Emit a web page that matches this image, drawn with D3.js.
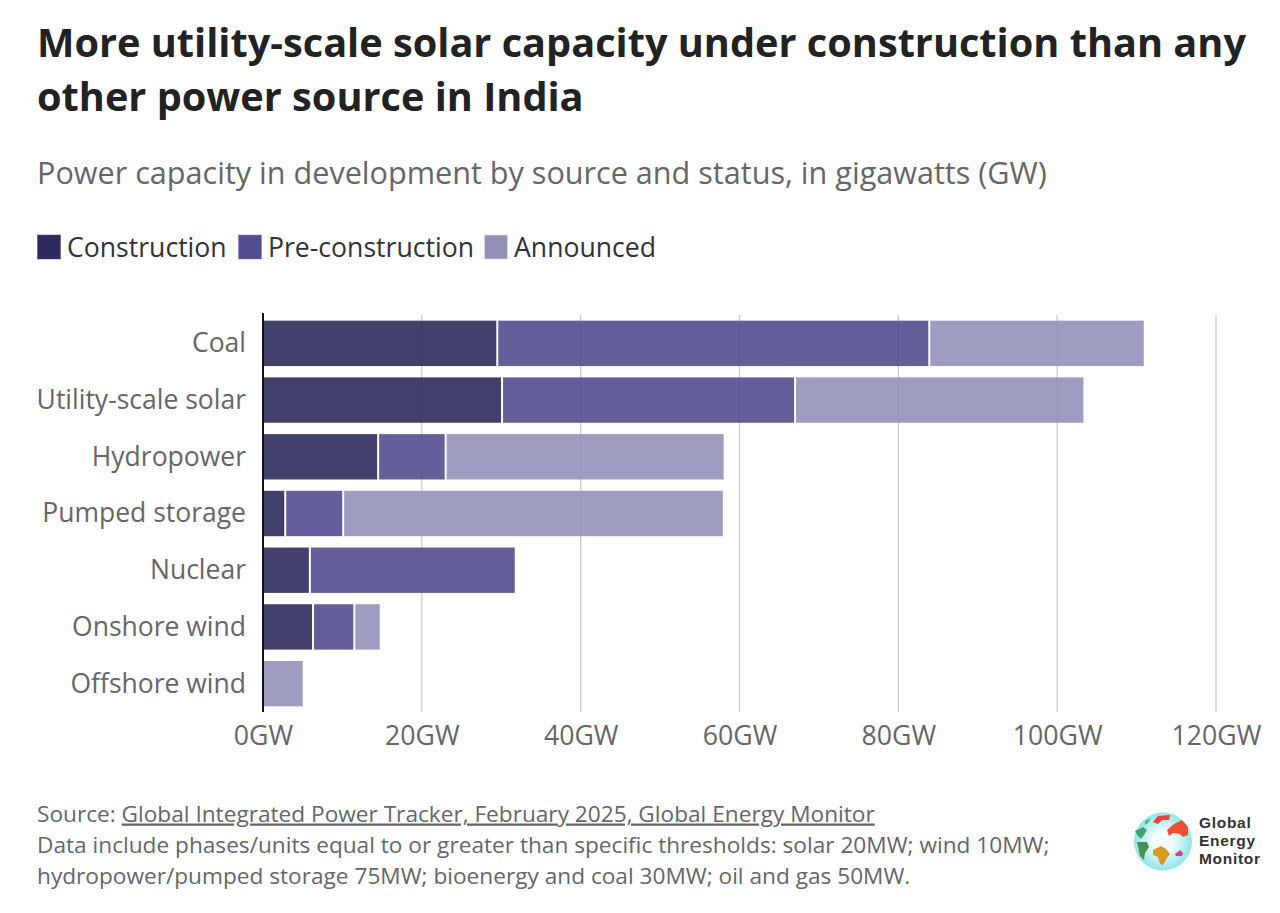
<!DOCTYPE html>
<html><head><meta charset="utf-8">
<script src="https://cdn.jsdelivr.net/npm/d3@7"></script>
<style>
html,body{margin:0;padding:0;background:#fff;overflow:hidden}
svg{display:block}
text{font-family:"Open Sans","Noto Sans",sans-serif}
</style></head><body>
<svg id="c" width="1280" height="913"></svg>
<script>
const categories=["Coal","Utility-scale solar","Hydropower","Pumped storage","Nuclear","Onshore wind","Offshore wind"];
const seriesNames=["Construction","Pre-construction","Announced"];
const construction=[29.5,30.1,14.5,2.8,5.9,6.3,0];
const preConstruction=[54.4,36.9,8.5,7.3,25.8,5.2,0];
const announced=[27.0,36.3,35.0,47.8,0,3.2,5.0];
const tickValues=[0,20,40,60,80,100,120];
const colors=["#2e2b5c","#534c8f","#9491b9"];

const svg=d3.select("#c");
const x=d3.scaleLinear().domain([0,120]).range([263,1216]);
const y=d3.scaleBand().domain(categories).range([315,712]).paddingInner(0.2).paddingOuter(0.1);

const title=svg.append("text").attr("x",37).attr("fill","#222").attr("font-size",39.7).attr("font-weight",700);
["More utility-scale solar capacity under construction than any","other power source in India"].forEach((t,i)=>
  title.append("tspan").attr("x",37).attr("y",57+i*54).text(t));
svg.append("text").attr("x",37).attr("y",184).attr("fill","#666").attr("font-size",30.6).text("Power capacity in development by source and status, in gigawatts (GW)");

const legendX=[37,238,484];
seriesNames.forEach((n,i)=>{
  svg.append("rect").attr("x",legendX[i]+.5).attr("y",235).attr("width",23).attr("height",24)
    .attr("fill",colors[i]).attr("stroke",d3.color(colors[i]).brighter(1.2)).attr("stroke-opacity",.5);
  svg.append("text").attr("x",legendX[i]+30).attr("y",257).attr("fill","#333").attr("font-size",26.6).text(n);
});

// gridlines
svg.append("g").selectAll("line").data(tickValues).join("line")
  .attr("x1",d=>x(d)).attr("x2",d=>x(d)).attr("y1",315).attr("y2",712)
  .attr("stroke","#ccc").attr("stroke-width",1.3);

// stacked bars
const table=categories.map((c,i)=>({category:c,Construction:construction[i],"Pre-construction":preConstruction[i],Announced:announced[i]}));
const stack=d3.stack().keys(seriesNames)(table);
const barG=svg.append("g");
stack.forEach((s,k)=>{
  barG.append("g").attr("fill",colors[k]).attr("fill-opacity",.9)
    .selectAll("rect").data(s.filter(d=>d[1]-d[0]>0)).join("rect")
    .attr("x",d=>x(d[0])+(d[0]>0?1:0))
    .attr("width",d=>x(d[1])-x(d[0])-(d[0]>0?1:0)-(d[1]<d3.sum(seriesNames,n=>d.data[n])?1:0))
    .attr("y",d=>y(d.data.category))
    .attr("height",y.bandwidth());
});

// axis baseline
svg.append("line").attr("x1",263).attr("x2",263).attr("y1",313).attr("y2",712).attr("stroke","#111").attr("stroke-width",2);

// y labels
const yAxis=d3.axisLeft(y).tickSize(0).tickPadding(0);
const yg=svg.append("g").attr("transform","translate(246,0.5)").call(yAxis);
yg.select(".domain").remove();
yg.selectAll("text").attr("fill","#666").attr("font-size",26.5).attr("font-family",'"Open Sans"');

// x labels
const xAxis=d3.axisBottom(x).tickValues(tickValues).tickSize(0).tickPadding(0).tickFormat(d=>d+"GW");
const xg=svg.append("g").attr("transform","translate(0,726.5)").call(xAxis);
xg.select(".domain").remove();
xg.selectAll("text").attr("fill","#666").attr("font-size",26.7).attr("font-family",'"Open Sans"');

// footer
const fs=22.65;
const f1=svg.append("text").attr("x",37).attr("y",821.5).attr("fill","#666").attr("font-size",fs);
f1.append("tspan").text("Source: ");
f1.append("tspan").attr("text-decoration","underline").text("Global Integrated Power Tracker, February 2025, Global Energy Monitor");
svg.append("text").attr("x",37).attr("y",852.5).attr("fill","#666").attr("font-size",fs).text("Data include phases/units equal to or greater than specific thresholds: solar 20MW; wind 10MW;");
svg.append("text").attr("x",37).attr("y",883.5).attr("fill","#666").attr("font-size",fs).text("hydropower/pumped storage 75MW; bioenergy and coal 30MW; oil and gas 50MW.");

// logo
const defs=svg.append("defs");
const g=defs.append("radialGradient").attr("id","globe");
g.append("stop").attr("offset","35%").attr("stop-color","#f2fdfd");
g.append("stop").attr("offset","100%").attr("stop-color","#8fe6ea");
const logo=svg.append("g").attr("transform","translate(1120,800)");
logo.append("circle").attr("cx",43).attr("cy",41.5).attr("r",29).attr("fill","url(#globe)");
const blobs=[
 ["M33 22 L38 16 L50 15 L49 20 L42 20 L38 24 Z","#e8433a"],
 ["M47 30 L54 24 L62 20 L68 27 L68 35 L63 37 L60 34 L53 33 L49 36 Z","#f04e30"],
 ["M25 21 L31 18 L28 23 L25 25 Z","#58b56a"],
 ["M15 31 L23 27 L27 30 L24 35 L21 39 L18 36 Z","#3fa66b"],
 ["M17 42 L27 42 L29 47 L25 53 L24 60 L20 56 Z","#4c8f52"],
 ["M33 50 L41 46 L46 49 L50 54 L47 58 L43 65 L40 64 L38 57 L33 55 Z","#d99a1f"],
 ["M55 54 L60 50 L63 53 L62 56 L56 56 Z","#d6408f"]
];
logo.selectAll("path").data(blobs).join("path").attr("d",d=>d[0]).attr("fill",d=>d[1]);
["Global","Energy","Monitor"].forEach((t,i)=>svg.append("text").attr("x",1199).attr("y",828+i*18).attr("fill","#333")
  .attr("font-size",15.5).attr("font-weight",700).attr("letter-spacing",0.7).style("font-family","'Liberation Sans',sans-serif").text(t));
</script>
</body></html>
